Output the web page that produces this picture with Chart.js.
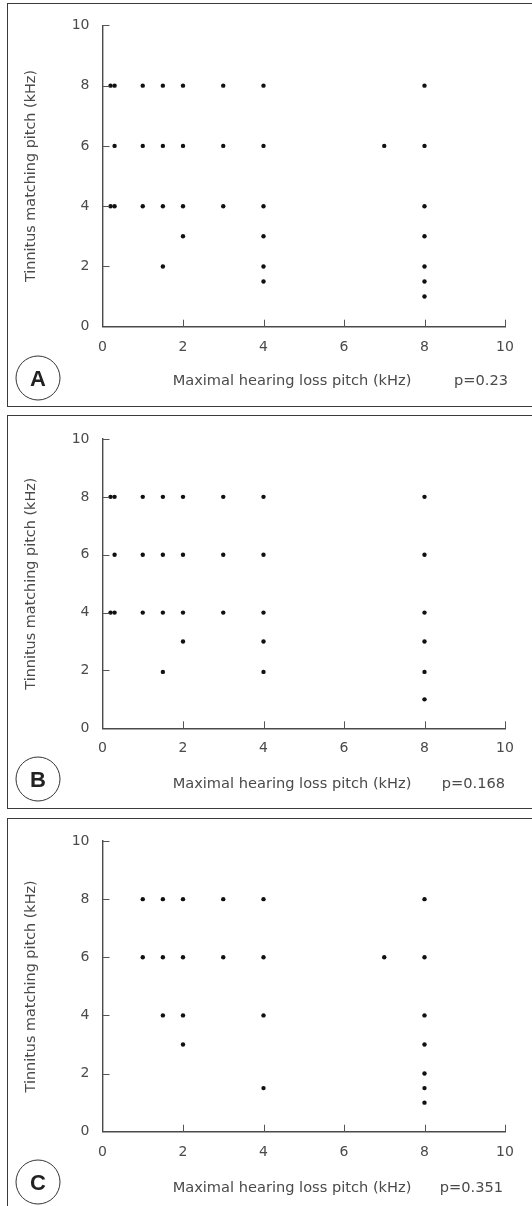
<!DOCTYPE html>
<html><head><meta charset="utf-8">
<script src="https://cdn.jsdelivr.net/npm/chart.js@4.4.1/dist/chart.umd.min.js"></script>
<style>
body{margin:0;width:532px;height:1206px;background:#fff;position:relative;overflow:hidden;font-family:"DejaVu Sans",sans-serif;color:#4a4a4a}
.box{position:absolute;left:7px;width:620px;border:1.5px solid #3a3a3a;box-sizing:border-box}
.cw{position:absolute;left:0;width:532px}
.xt{position:absolute;font-size:14.6px;white-space:nowrap;transform:translate(-50%,-50%);line-height:1}
.p{position:absolute;font-size:14.6px;white-space:nowrap;transform:translate(-100%,-50%);line-height:1}
.circ{position:absolute;width:45px;height:45px;border:1.2px solid #333;border-radius:50%;transform:translate(-50%,-50%);display:flex;align-items:center;justify-content:center;font:bold 22px "Liberation Sans",Arial,sans-serif;color:#222;box-sizing:border-box}
</style></head><body>
<script>
// ---- data ----
const xTickValues = [0, 2, 4, 6, 8, 10];
const yTickValues = [0, 2, 4, 6, 8, 10];
const panelLabels = ['A', 'B', 'C'];
const pValues = ['p=0.23', 'p=0.168', 'p=0.351'];
const xTitle = 'Maximal hearing loss pitch (kHz)';
const yTitle = 'Tinnitus matching pitch (kHz)';

const hearingLossA = [0.2,0.3,1,1.5,2,3,4,8, 0.3,1,1.5,2,3,4,7,8, 0.2,0.3,1,1.5,2,3,4,8, 2,4,8, 1.5,4,8, 4,8, 8];
const tinnitusA    = [8,8,8,8,8,8,8,8,     6,6,6,6,6,6,6,6,     4,4,4,4,4,4,4,4,     3,3,3, 2,2,2,   1.5,1.5, 1];

const hearingLossB = [0.2,0.3,1,1.5,2,3,4,8, 0.3,1,1.5,2,3,4,8, 0.2,0.3,1,1.5,2,3,4,8, 2,4,8, 1.5,4,8, 8];
const tinnitusB    = [8,8,8,8,8,8,8,8,     6,6,6,6,6,6,6,     4,4,4,4,4,4,4,4,     3,3,3, 1.95,1.95,1.95, 1];

const hearingLossC = [1,1.5,2,3,4,8, 1,1.5,2,3,4,7,8, 1.5,2,4,8, 2,8, 8, 4,8, 8];
const tinnitusC    = [8,8,8,8,8,8,  6,6,6,6,6,6,6,   4,4,4,4,   3,3, 2, 1.5,1.5, 1];

const panelX = [hearingLossA, hearingLossB, hearingLossC];
const panelY = [tinnitusA, tinnitusB, tinnitusC];

// ---- layout ----
const layout = [
  {boxTop:3, boxH:404, cTop:4, cH:403, areaTop:21, xH:80.3, titleY:380, pX:508, circY:378},
  {boxTop:414.5, boxH:394, cTop:415, cH:393, areaTop:24, xH:79.7, titleY:783, pX:505, circY:779},
  {boxTop:817.5, boxH:420, cTop:818, cH:388, areaTop:23, xH:74.3, titleY:1187, pX:503, circY:1182}
];
const AXIS_LEFT = 102.5, AXIS_RIGHT = 505;
const axisColor = '#4a4a4a', textColor = '#4a4a4a';
const FONT = 'DejaVu Sans';

const innerTicks = {
  id: 'innerTicks',
  afterDraw(chart) {
    const {ctx, scales:{x, y}} = chart;
    ctx.save();
    ctx.strokeStyle = '#555';
    ctx.lineWidth = 1;
    xTickValues.filter(v => v > 0).forEach(v => {
      const px = Math.round(x.getPixelForValue(v)) + 0.5;
      ctx.beginPath(); ctx.moveTo(px, y.bottom); ctx.lineTo(px, y.bottom - 7); ctx.stroke();
    });
    yTickValues.filter(v => v > 0).forEach(v => {
      const py = Math.round(y.getPixelForValue(v)) + 0.5;
      ctx.beginPath(); ctx.moveTo(x.left, py); ctx.lineTo(x.left + 7, py); ctx.stroke();
    });
    ctx.restore();
  }
};

layout.forEach((L, i) => {
  const box = document.createElement('div');
  box.className = 'box';
  box.style.top = L.boxTop + 'px';
  box.style.height = L.boxH + 'px';
  document.body.appendChild(box);

  const wrap = document.createElement('div');
  wrap.className = 'cw';
  wrap.style.top = L.cTop + 'px';
  wrap.style.height = L.cH + 'px';
  const cv = document.createElement('canvas');
  cv.width = 532; cv.height = L.cH;
  wrap.appendChild(cv);
  document.body.appendChild(wrap);

  const t = document.createElement('div');
  t.className = 'xt'; t.textContent = xTitle;
  t.style.left = '292px'; t.style.top = L.titleY + 'px';
  document.body.appendChild(t);

  const p = document.createElement('div');
  p.className = 'p'; p.textContent = pValues[i];
  p.style.left = L.pX + 'px'; p.style.top = L.titleY + 'px';
  document.body.appendChild(p);

  const c = document.createElement('div');
  c.className = 'circ'; c.textContent = panelLabels[i];
  c.style.left = '38px'; c.style.top = L.circY + 'px';
  document.body.appendChild(c);

  const pts = panelX[i].map((xv, k) => ({x: xv, y: panelY[i][k]}));

  new Chart(cv, {
    type: 'scatter',
    data: { datasets: [{ data: pts, pointRadius: 2.2, pointHoverRadius: 2.2, backgroundColor: '#111', borderWidth: 0 }] },
    plugins: [innerTicks],
    options: {
      responsive: false,
      animation: false,
      events: [],
      layout: { padding: { top: L.areaTop, right: 532 - AXIS_RIGHT, left: 0, bottom: 0 } },
      plugins: { legend: { display: false }, tooltip: { enabled: false } },
      scales: {
        x: {
          type: 'linear', min: 0, max: 10,
          afterBuildTicks: s => { s.ticks = xTickValues.map(v => ({value: v})); },
          afterFit: s => { s.height = L.xH; },
          grid: { display: true, drawOnChartArea: false, drawTicks: false },
          border: { display: true, color: axisColor, width: 1.4 },
          ticks: { color: textColor, font: { family: FONT, size: 14 }, padding: 12, maxRotation: 0 }
        },
        y: {
          type: 'linear', min: 0, max: 10,
          afterBuildTicks: s => { s.ticks = yTickValues.map(v => ({value: v})); },
          afterFit: s => { s.width = AXIS_LEFT; },
          grid: { display: true, drawOnChartArea: false, drawTicks: false },
          border: { display: true, color: axisColor, width: 1.4 },
          ticks: { color: textColor, font: { family: FONT, size: 14 }, padding: 13 },
          title: { display: true, text: yTitle, color: textColor, font: { family: FONT, size: 14.4 }, padding: { top: 23, bottom: 0 } }
        }
      }
    }
  });
});
</script>
</body></html>
